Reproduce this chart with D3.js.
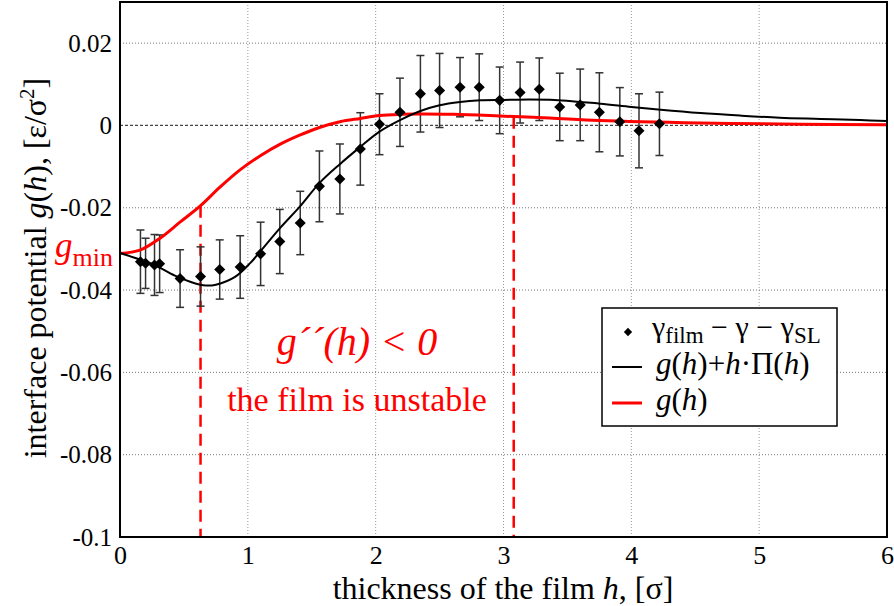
<!DOCTYPE html>
<html>
<head>
<meta charset="utf-8">
<script src="https://cdn.jsdelivr.net/npm/d3@7"></script>
<style>
  html, body { margin: 0; padding: 0; background: #fff; }
  svg { display: block; }
  svg text { font-family: "Liberation Serif", "DejaVu Serif", serif; }
</style>
</head>
<body>
<svg id="chart" width="894" height="606"></svg>
<script>
// ---------- data ----------
const hPoints = [0.16, 0.20, 0.27, 0.31, 0.47, 0.63, 0.78, 0.94, 1.10, 1.25, 1.41, 1.56, 1.72, 1.88, 2.03, 2.19, 2.35, 2.50, 2.66, 2.81, 2.97, 3.13, 3.28, 3.44, 3.60, 3.75, 3.91, 4.06, 4.22];
const gammaValues = [-0.0331, -0.0335, -0.0339, -0.0336, -0.0372, -0.0367, -0.0350, -0.0344, -0.0312, -0.0282, -0.0237, -0.0148, -0.0130, -0.0057, 0.0003, 0.0032, 0.0077, 0.0085, 0.0093, 0.0093, 0.0061, 0.0080, 0.0088, 0.0045, 0.0050, 0.0032, 0.0009, -0.0013, 0.0004];
const gammaErrors = [0.0077, 0.0061, 0.0074, 0.0070, 0.0070, 0.0072, 0.0072, 0.0076, 0.0077, 0.0078, 0.0077, 0.0086, 0.0085, 0.0088, 0.0074, 0.0083, 0.0093, 0.0090, 0.0072, 0.0081, 0.0081, 0.0074, 0.0076, 0.0082, 0.0087, 0.0096, 0.0083, 0.0090, 0.0077];

const hFit = [0, 0.12, 0.27, 0.43, 0.59, 0.67, 0.75, 0.90, 1.02, 1.095, 1.25, 1.41, 1.56, 1.72, 1.88, 2.03, 2.19, 2.35, 2.50, 2.66, 2.82, 3.0, 3.2, 3.4, 3.60, 3.76, 4.0, 4.23, 4.54, 4.85, 5.16, 5.48, 5.79, 6.0];
const fitValues = [-0.0310, -0.0322, -0.0339, -0.0365, -0.0384, -0.0389, -0.0387, -0.0368, -0.0334, -0.0307, -0.0250, -0.0196, -0.0140, -0.0094, -0.0052, -0.0015, 0.0013, 0.0035, 0.0049, 0.0057, 0.0061, 0.0062, 0.0063, 0.0062, 0.0057, 0.0053, 0.0045, 0.0038, 0.0030, 0.0024, 0.0019, 0.0016, 0.0013, 0.0011];

const hG = [0, 0.156, 0.313, 0.469, 0.626, 0.782, 0.939, 1.095, 1.25, 1.41, 1.56, 1.72, 1.88, 2.03, 2.19, 2.35, 2.61, 2.97, 3.36, 3.75, 4.54, 5.32, 6.0];
const gValues = [-0.0311, -0.0303, -0.0274, -0.0235, -0.0196, -0.0150, -0.0108, -0.0074, -0.0046, -0.0023, -0.0005, 0.0009, 0.0017, 0.0024, 0.0027, 0.0028, 0.0027, 0.0023, 0.0018, 0.0012, 0.0006, 0.0003, 0.0002];

const criticalH = [0.63, 3.08];
const criticalG = [-0.0195, 0.0021];
const gMin = -0.031;

const xTicks = [0, 1, 2, 3, 4, 5, 6];
const yTicks = [-0.1, -0.08, -0.06, -0.04, -0.02, 0, 0.02];
const yTickLabels = ["-0.1", "-0.08", "-0.06", "-0.04", "-0.02", "0", "0.02"];

// ---------- layout ----------
const svg = d3.select("#chart");
const pLeft = 120, pRight = 887, pTop = 2, pBottom = 537;
const x = d3.scaleLinear().domain([0, 6]).range([pLeft, pRight]);
const y = d3.scaleLinear().domain([-0.1, 0.03]).range([pBottom, pTop]);
const font = '"Liberation Serif", "DejaVu Serif", serif';

// grid
const grid = svg.append("g");
grid.selectAll("line.vg").data(xTicks.filter(d => d > 0 && d < 6)).enter().append("line")
  .attr("x1", d => x(d)).attr("x2", d => x(d)).attr("y1", pTop).attr("y2", pBottom)
  .attr("stroke", "#999").attr("stroke-width", 1).attr("stroke-dasharray", "1,2");
grid.selectAll("line.hg").data(yTicks.filter(d => d !== 0 && d > -0.1)).enter().append("line")
  .attr("x1", pLeft).attr("x2", pRight).attr("y1", d => y(d)).attr("y2", d => y(d))
  .attr("stroke", "#777").attr("stroke-width", 1).attr("stroke-dasharray", "1,2");
grid.append("line")
  .attr("x1", pLeft).attr("x2", pRight).attr("y1", y(0)).attr("y2", y(0))
  .attr("stroke", "#444").attr("stroke-width", 1.2).attr("stroke-dasharray", "3,2");

// axes (labels only)
const xAxis = d3.axisBottom(x).tickValues(xTicks).tickSize(0).tickPadding(9).tickFormat(d3.format("d"));
const gx = svg.append("g").attr("transform", `translate(0,${pBottom})`).call(xAxis);
gx.attr("font-family", null);
gx.select(".domain").remove();
gx.selectAll("text").style("font-family", font).attr("font-size", 26).attr("fill", "#000");

const yAxis = d3.axisLeft(y).tickValues(yTicks).tickSize(0).tickPadding(8).tickFormat((d, i) => yTickLabels[i]);
const gy = svg.append("g").attr("transform", `translate(${pLeft},0)`).call(yAxis);
gy.attr("font-family", null);
gy.select(".domain").remove();
gy.selectAll("text").style("font-family", font).attr("font-size", 25).attr("fill", "#000");

// dashed critical lines
svg.selectAll("line.crit").data(criticalH).enter().append("line")
  .attr("x1", d => x(d)).attr("x2", d => x(d))
  .attr("y1", (d, i) => y(criticalG[i])).attr("y2", pBottom)
  .attr("stroke", "#ff0000").attr("stroke-width", 2.5).attr("stroke-dasharray", "12,7");

// error bars
const eb = svg.append("g").attr("stroke", "#333").attr("stroke-width", 1.5);
hPoints.forEach((h, i) => {
  const cx = x(h), y1 = y(gammaValues[i] + gammaErrors[i]), y2 = y(gammaValues[i] - gammaErrors[i]);
  eb.append("line").attr("x1", cx).attr("x2", cx).attr("y1", y1).attr("y2", y2);
  eb.append("line").attr("x1", cx - 4).attr("x2", cx + 4).attr("y1", y1).attr("y2", y1);
  eb.append("line").attr("x1", cx - 4).attr("x2", cx + 4).attr("y1", y2).attr("y2", y2);
});

// curves
const line = d3.line().x(d => x(d[0])).y(d => y(d[1])).curve(d3.curveCatmullRom.alpha(0.5));
svg.append("path").datum(hG.map((h, i) => [h, gValues[i]]))
  .attr("d", line).attr("fill", "none").attr("stroke", "#ff0000").attr("stroke-width", 3);
svg.append("path").datum(hFit.map((h, i) => [h, fitValues[i]]))
  .attr("d", line).attr("fill", "none").attr("stroke", "#000").attr("stroke-width", 2);

// diamonds
const diamond = d3.symbol().type(d3.symbolDiamond2).size(78);
svg.selectAll("path.pt").data(hPoints).enter().append("path")
  .attr("d", diamond)
  .attr("transform", (d, i) => `translate(${x(d)},${y(gammaValues[i])})`)
  .attr("fill", "#000");

// frame
svg.append("rect").attr("x", pLeft).attr("y", pTop).attr("width", pRight - pLeft).attr("height", pBottom - pTop)
  .attr("fill", "none").attr("stroke", "#000").attr("stroke-width", 2);

// axis titles
svg.append("text").attr("x", 503).attr("y", 599).attr("text-anchor", "middle")
  .style("font-family", font).attr("font-size", 32)
  .html('thickness of the film <tspan font-style="italic">h</tspan>, [σ]');

svg.append("text").attr("transform", "translate(46,268) rotate(-90)").attr("text-anchor", "middle")
  .style("font-family", font).attr("font-size", 32)
  .html('interface potential <tspan font-style="italic">g</tspan>(<tspan font-style="italic">h</tspan>), [ε/σ<tspan dy="-12" font-size="21">2</tspan><tspan dy="12">]</tspan>');

// g_min label
svg.append("text").attr("x", 55).attr("y", y(gMin) + 4).attr("fill", "#ff0000")
  .style("font-family", font)
  .html('<tspan font-style="italic" font-size="35">g</tspan><tspan font-size="26" dy="9">min</tspan>');

// annotations
svg.append("text").attr("x", 357).attr("y", 355).attr("text-anchor", "middle").attr("fill", "#ff0000")
  .style("font-family", font).attr("font-size", 40).attr("font-style", "italic")
  .text("g\u00B4\u00B4(h) < 0");
svg.append("text").attr("x", 357).attr("y", 411).attr("text-anchor", "middle").attr("fill", "#ff0000")
  .style("font-family", font).attr("font-size", 34)
  .text("the film is unstable");

// legend
const lg = svg.append("g");
lg.append("rect").attr("x", 602).attr("y", 308).attr("width", 235).attr("height", 118)
  .attr("fill", "#fff").attr("stroke", "#000").attr("stroke-width", 1.5);
lg.append("path").attr("d", d3.symbol().type(d3.symbolDiamond2).size(44)).attr("transform", "translate(628,332)").attr("fill", "#000");
lg.append("line").attr("x1", 612).attr("x2", 642).attr("y1", 367).attr("y2", 367).attr("stroke", "#000").attr("stroke-width", 2);
lg.append("line").attr("x1", 612).attr("x2", 642).attr("y1", 403).attr("y2", 403).attr("stroke", "#ff0000").attr("stroke-width", 3);
lg.append("text").attr("x", 652).attr("y", 337).style("font-family", font).attr("font-size", 30)
  .html('γ<tspan font-size="23" dy="6">film</tspan><tspan dy="-6"> − γ − γ</tspan><tspan font-size="23" dy="6">SL</tspan>');
lg.append("text").attr("x", 656).attr("y", 374).style("font-family", font).attr("font-size", 31)
  .html('<tspan font-style="italic">g</tspan>(<tspan font-style="italic">h</tspan>)+<tspan font-style="italic">h</tspan>·Π(<tspan font-style="italic">h</tspan>)');
lg.append("text").attr("x", 656).attr("y", 410).style("font-family", font).attr("font-size", 31)
  .html('<tspan font-style="italic">g</tspan>(<tspan font-style="italic">h</tspan>)');
</script>
</body>
</html>
